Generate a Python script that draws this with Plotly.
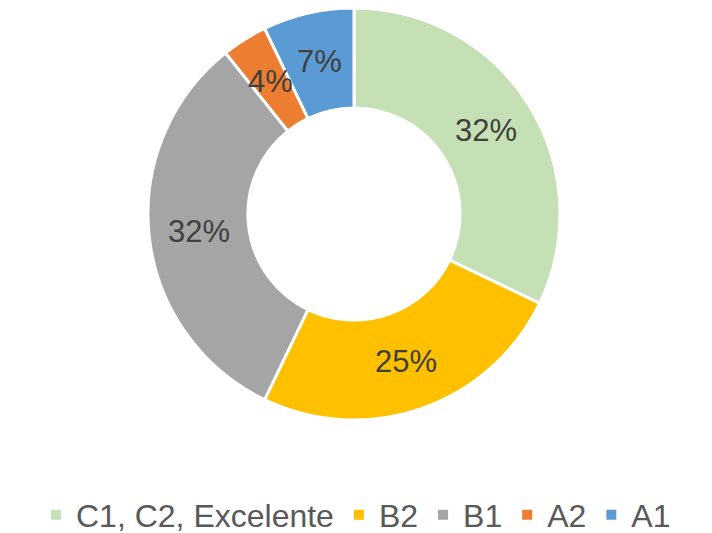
import math
import plotly.graph_objects as go

labels = ["C1, C2, Excelente", "B2", "B1", "A2", "A1"]
values = [9, 7, 9, 1, 2]
colors = ["#C5E0B4", "#FFC000", "#A5A5A5", "#ED7D31", "#5B9BD5"]

W, H = 712, 533
FONT = "Liberation Sans, Arial, sans-serif"
HOLE = 0.515
dom_x = [148 / W, 560 / W]
dom_y = [1 - 421 / H, 1 - 7 / H]

fig = go.Figure(go.Pie(
    labels=labels,
    values=values,
    sort=False,
    direction="clockwise",
    rotation=0,
    hole=HOLE,
    marker=dict(colors=colors, line=dict(color="white", width=3)),
    textinfo="none",
    hoverinfo="label+percent",
    domain=dict(x=dom_x, y=dom_y),
))

# percentage labels placed at the middle of each ring segment, computed from the values
total = sum(values)
cx = (dom_x[0] + dom_x[1]) / 2
cy = (dom_y[0] + dom_y[1]) / 2
r_px = min((dom_x[1] - dom_x[0]) * W, (dom_y[1] - dom_y[0]) * H) / 2
r_mid = r_px * (1 + HOLE) / 2
cum = 0
annotations = []
for v in values:
    mid = (cum + v / 2) / total * 2 * math.pi
    cum += v
    annotations.append(dict(
        x=cx + r_mid * math.sin(mid) / W,
        y=cy + r_mid * math.cos(mid) / H,
        xref="paper", yref="paper", showarrow=False,
        text=f"{round(100 * v / total)}%",
        font=dict(family=FONT, size=31, color="#404040"),
        xanchor="center", yanchor="middle",
    ))

fig.update_layout(
    width=W, height=H,
    margin=dict(l=0, r=0, t=0, b=0, autoexpand=False),
    paper_bgcolor="white",
    annotations=annotations,
    showlegend=True,
    legend=dict(
        orientation="h", x=0.5, xanchor="center", y=1 - 515 / H, yanchor="middle",
        font=dict(family=FONT, size=32, color="#595959"),
        itemsizing="constant",
    ),
)
fig.write_html("out.html", config={"displayModeBar": False},
               post_script="document.body.style.margin='0';")
